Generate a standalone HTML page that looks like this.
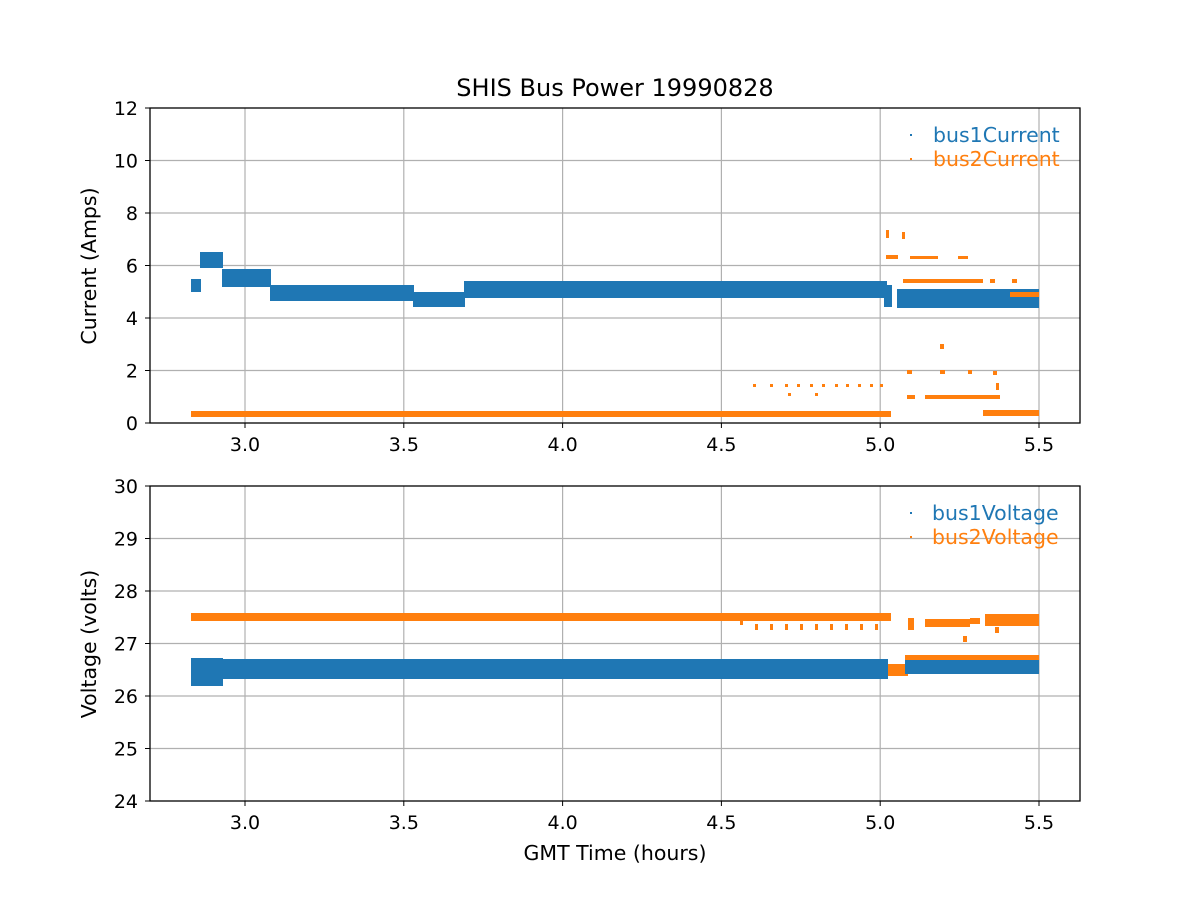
<!DOCTYPE html>
<html><head><meta charset="utf-8"><style>body{margin:0;background:#fff}svg{display:block}text{font-family:"DejaVu Sans","Liberation Sans",sans-serif;fill:#000}</style></head><body>
<svg width="1200" height="900" xmlns="http://www.w3.org/2000/svg">
<rect width="1200" height="900" fill="#fff"/>
<g stroke="#b0b0b0" stroke-width="1.2">
<line x1="245" y1="108" x2="245" y2="423"/><line x1="403.8" y1="108" x2="403.8" y2="423"/><line x1="562.6" y1="108" x2="562.6" y2="423"/><line x1="721.4" y1="108" x2="721.4" y2="423"/><line x1="880.2" y1="108" x2="880.2" y2="423"/><line x1="1039" y1="108" x2="1039" y2="423"/>
<line x1="150" y1="370.5" x2="1080" y2="370.5"/><line x1="150" y1="318" x2="1080" y2="318"/><line x1="150" y1="265.5" x2="1080" y2="265.5"/><line x1="150" y1="213" x2="1080" y2="213"/><line x1="150" y1="160.5" x2="1080" y2="160.5"/>
<line x1="245" y1="486" x2="245" y2="801"/><line x1="403.8" y1="486" x2="403.8" y2="801"/><line x1="562.6" y1="486" x2="562.6" y2="801"/><line x1="721.4" y1="486" x2="721.4" y2="801"/><line x1="880.2" y1="486" x2="880.2" y2="801"/><line x1="1039" y1="486" x2="1039" y2="801"/>
<line x1="150" y1="748.5" x2="1080" y2="748.5"/><line x1="150" y1="696" x2="1080" y2="696"/><line x1="150" y1="643.5" x2="1080" y2="643.5"/><line x1="150" y1="591" x2="1080" y2="591"/><line x1="150" y1="538.5" x2="1080" y2="538.5"/>
</g>
<g fill="#1f77b4">
<rect x="191" y="279" width="10" height="13"/>
<rect x="200" y="252" width="23" height="16"/>
<rect x="222" y="269" width="49" height="18"/>
<rect x="270" y="285" width="144" height="16"/>
<rect x="413" y="292" width="52" height="15"/>
<rect x="464" y="281" width="423" height="17"/>
<rect x="884" y="285" width="8" height="22"/>
<rect x="897" y="289" width="142" height="19"/>
</g>
<g fill="#ff7f0e">
<rect x="191" y="411" width="700" height="6"/>
<path d="M753 384h3v3h-3zM770 384h3v3h-3zM785 384h3v3h-3zM797 384h3v3h-3zM810 384h3v3h-3zM822 384h3v3h-3zM835 384h3v3h-3zM846 384h3v3h-3zM858 384h3v3h-3zM870 384h3v3h-3zM880 384h3v3h-3zM788 393h3v3h-3zM815 393h3v3h-3z"/>
<path d="M886 230h3v8h-3zM902 232h3v7h-3zM886 255h12v4h-12zM910 256h28v3h-28zM958 256h10v3h-10zM903 279h80v4h-80zM990 279h5v4h-5zM1012 279h5v4h-5zM1010 292h29v5h-29zM940 344h4v5h-4zM907 370h5v4h-5zM940 370h5v4h-5zM968 370h4v4h-4zM993 371h4v4h-4zM996 383h3v7h-3zM907 395h8v4h-8zM925 395h75v4h-75zM983 410h56v6h-56z"/>
</g>
<g fill="#ff7f0e">
<rect x="191" y="613" width="700" height="8"/>
<path d="M740 619h3v6h-3zM755 624h3v6h-3zM770 624h3v6h-3zM785 624h3v6h-3zM800 624h3v6h-3zM815 624h3v6h-3zM830 624h3v6h-3zM845 624h3v6h-3zM860 624h3v6h-3zM875 624h3v6h-3zM908 618h6v12h-6zM925 619h45v8h-45zM970 618h10v6h-10zM985 614h54v12h-54zM963 636h4v6h-4zM995 627h4v6h-4z"/>
<rect x="884" y="664" width="24" height="12"/>
<rect x="905" y="655" width="134" height="8"/>
</g>
<g fill="#1f77b4">
<rect x="191" y="658" width="32" height="28"/>
<rect x="222" y="659" width="666" height="20"/>
<rect x="905" y="660" width="134" height="14"/>
</g>
<rect x="150" y="108" width="930" height="315" fill="none" stroke="#000" stroke-width="1.3"/>
<rect x="150" y="486" width="930" height="315" fill="none" stroke="#000" stroke-width="1.3"/>
<g stroke="#000" stroke-width="1">
<path d="M245 423v5M403.8 423v5M562.6 423v5M721.4 423v5M880.2 423v5M1039 423v5M245 801v5M403.8 801v5M562.6 801v5M721.4 801v5M880.2 801v5M1039 801v5"/>
<path d="M150 423h-5M150 370.5h-5M150 318h-5M150 265.5h-5M150 213h-5M150 160.5h-5M150 108h-5M150 801h-5M150 748.5h-5M150 696h-5M150 643.5h-5M150 591h-5M150 538.5h-5M150 486h-5"/>
</g>
<g font-size="19" text-anchor="middle">
<text x="245" y="451">3.0</text><text x="403.8" y="451">3.5</text><text x="562.6" y="451">4.0</text><text x="721.4" y="451">4.5</text><text x="880.2" y="451">5.0</text><text x="1039" y="451">5.5</text>
<text x="245" y="829">3.0</text><text x="403.8" y="829">3.5</text><text x="562.6" y="829">4.0</text><text x="721.4" y="829">4.5</text><text x="880.2" y="829">5.0</text><text x="1039" y="829">5.5</text>
</g>
<g font-size="19" text-anchor="end">
<text x="138" y="430">0</text><text x="138" y="377.5">2</text><text x="138" y="325">4</text><text x="138" y="272.5">6</text><text x="138" y="220">8</text><text x="138" y="167.5">10</text><text x="138" y="115">12</text>
<text x="138" y="808">24</text><text x="138" y="755.5">25</text><text x="138" y="703">26</text><text x="138" y="650.5">27</text><text x="138" y="598">28</text><text x="138" y="545.5">29</text><text x="138" y="493">30</text>
</g>
<text x="615" y="96" font-size="24" text-anchor="middle">SHIS Bus Power 19990828</text>
<text x="615" y="860" font-size="20.5" text-anchor="middle">GMT Time (hours)</text>
<text transform="translate(96,266) rotate(-90)" font-size="20.5" text-anchor="middle">Current (Amps)</text>
<text transform="translate(96,644) rotate(-90)" font-size="20.5" text-anchor="middle">Voltage (volts)</text>
<rect x="910" y="134" width="2" height="2" fill="#1f77b4"/><text x="933" y="142" font-size="20.5" style="fill:#1f77b4">bus1Current</text>
<rect x="910" y="158" width="2" height="2" fill="#ff7f0e"/><text x="933" y="166" font-size="20.5" style="fill:#ff7f0e">bus2Current</text>
<rect x="910" y="512" width="2" height="2" fill="#1f77b4"/><text x="932" y="520" font-size="20.5" style="fill:#1f77b4">bus1Voltage</text>
<rect x="910" y="536" width="2" height="2" fill="#ff7f0e"/><text x="932" y="544" font-size="20.5" style="fill:#ff7f0e">bus2Voltage</text>
</svg>
</body></html>
